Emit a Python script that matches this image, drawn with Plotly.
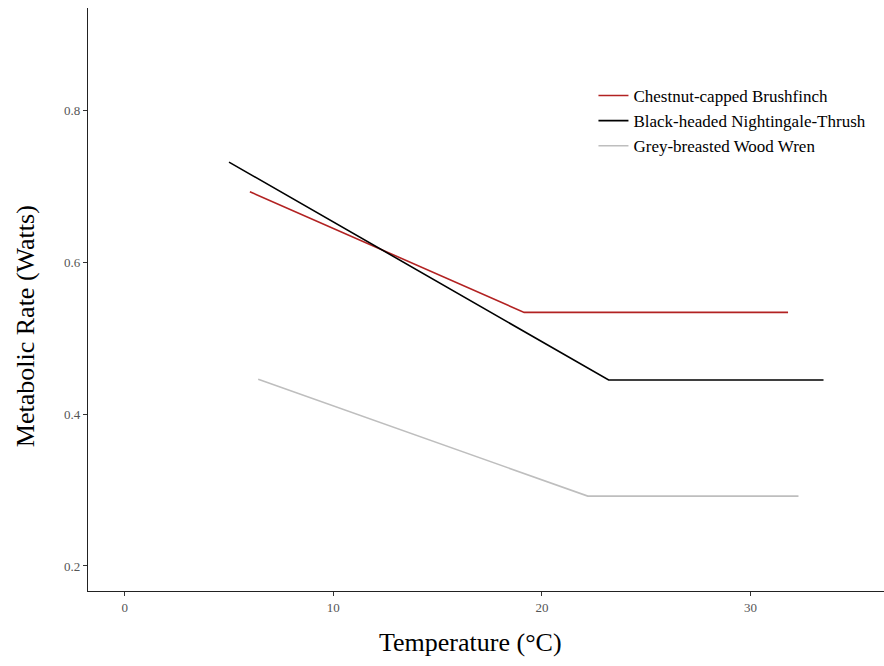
import plotly.graph_objects as go

# Broken-stick metabolic rate curves: (start, breakpoint, end)
species = ["Chestnut-capped Brushfinch", "Black-headed Nightingale-Thrush", "Grey-breasted Wood Wren"]
brushfinch_temp = [6.0, 19.15, 31.8]
brushfinch_rate = [0.693, 0.534, 0.534]
thrush_temp = [5.0, 23.2, 33.5]
thrush_rate = [0.732, 0.445, 0.445]
wren_temp = [6.4, 22.2, 32.3]
wren_rate = [0.446, 0.292, 0.292]
colors = ["#B22222", "#000000", "#BEBEBE"]

x_ticks = [0, 10, 20, 30]
y_ticks = [0.2, 0.4, 0.6, 0.8]

font_family = "Liberation Serif, DejaVu Serif, serif"

fig = go.Figure()
for name, xs, ys, c in zip(species,
                           [brushfinch_temp, thrush_temp, wren_temp],
                           [brushfinch_rate, thrush_rate, wren_rate],
                           colors):
    fig.add_trace(go.Scatter(x=xs, y=ys, mode="lines", name=name,
                             line=dict(color=c, width=1.6)))

axis_common = dict(showgrid=False, zeroline=False, showline=True,
                   linecolor="#222222", linewidth=1.3,
                   ticks="outside", ticklen=4, tickcolor="#333333", tickwidth=1,
                   tickfont=dict(family=font_family, size=13, color="#555555"))

fig.update_xaxes(range=[-1.76, 36.4], tickvals=x_ticks, ticktext=[str(v) for v in x_ticks],
                 **axis_common)
fig.update_yaxes(range=[0.167, 0.935], tickvals=y_ticks, ticktext=[f"{v:.1f}" for v in y_ticks],
                 **axis_common)

title_font = dict(family=font_family, size=26, color="#000000")
fig.add_annotation(text="Temperature (°C)", xref="paper", yref="paper",
                   x=0.481, y=-0.089, xanchor="center", yanchor="middle",
                   showarrow=False, font=title_font)
fig.add_annotation(text="Metabolic Rate (Watts)", xref="paper", yref="paper",
                   x=-0.079, y=0.4545, xanchor="center", yanchor="middle",
                   textangle=-90, showarrow=False, font=title_font)

fig.update_layout(
    width=884, height=666,
    margin=dict(l=88, r=0, t=8, b=75),
    plot_bgcolor="white", paper_bgcolor="white",
    font=dict(family=font_family),
    showlegend=True,
    legend=dict(x=0.635, y=0.88, xanchor="left", yanchor="top",
                font=dict(family=font_family, size=17, color="#000000"),
                bgcolor="rgba(0,0,0,0)", tracegroupgap=0, itemwidth=30),
)

fig.write_html("out.html")
